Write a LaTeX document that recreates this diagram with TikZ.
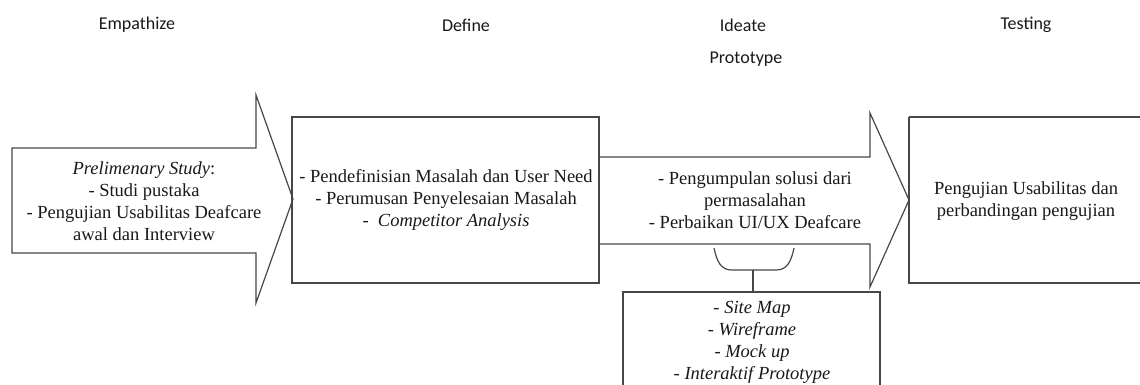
\documentclass[tikz,border=0pt]{standalone}
\usepackage{fontspec}
\setmainfont{Liberation Serif}
\newfontfamily\labelfont{Carlito}
\begin{document}
\begin{tikzpicture}[x=1pt,y=-1pt,
  outline/.style={draw=black!72,line width=1.2pt,line join=miter},
  stagetitle/.style={font=\labelfont\fontsize{18}{20}\selectfont,text=black!90,inner sep=0pt},
  bodytext/.style={font=\fontsize{18.5}{22}\selectfont,align=center,text=black!90,inner sep=0pt}]
\useasboundingbox (0,0) rectangle (1140,385);

% stage titles
\node[stagetitle] (tEmp) at (137,25) {Empathize};
\node[stagetitle] (tDef) at (466,25) {Define};
\node[stagetitle] (tIde) at (743,25) {Ideate};
\node[stagetitle] (tPro) at (746,59) {Prototype};
\node[stagetitle] (tTes) at (1026,25) {Testing};

% Empathize arrow
\draw[outline] (12,148) -- (256,148) -- (256,95) -- (293,199) -- (256,303)
  -- (256,253) -- (12,253) -- cycle;
\node[bodytext] (emp) at (144,201) {\textit{Prelimenary Study}:\\- Studi pustaka\\- Pengujian Usabilitas Deafcare\\awal dan Interview};

% Define box
\draw[outline] (292,117) rectangle (599,283);
\node[bodytext] (def) at (446,200) {- Pendefinisian Masalah dan User Need\\- Perumusan Penyelesaian Masalah\\- \ \textit{Competitor Analysis}};

% Ideate arrow
\draw[outline] (599,157) -- (870,157) -- (870,113) -- (909,200) -- (870,287)
  -- (870,244) -- (599,244);
\node[bodytext] (ide) at (755,200) {- Pengumpulan solusi dari\\permasalahan\\- Perbaikan UI/UX Deafcare};

% Testing box
\draw[outline] (909,117) -- (1141,117);
\draw[outline] (909,117) -- (909,283) -- (1141,283);
\node[bodytext] (tes) at (1026,201) {Pengujian Usabilitas dan\\perbandingan pengujian};

% bracket under the Ideate arrow
\draw[outline] (714,248) .. controls (717,262) and (721,270) .. (732,270) -- (776,270)
  .. controls (787,270) and (791,262) .. (794,248);
\coordinate (brk) at (753,270);

% Prototype box
\draw[outline] (623,386) -- (623,292) -- (880,292) -- (880,386);
\coordinate (protoTop) at (753,292);
\draw[outline] (brk) -- (protoTop);
\node[bodytext] (pro) at (752,342) {- \textit{Site Map}\\- \textit{Wireframe}\\- \textit{Mock up}\\- \textit{Interaktif Prototype}};
\end{tikzpicture}
\end{document}
